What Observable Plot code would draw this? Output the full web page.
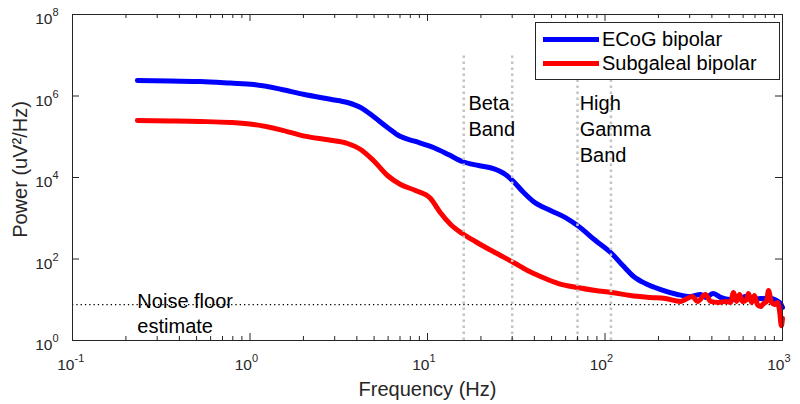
<!DOCTYPE html>
<html>
<head>
<meta charset="utf-8">
<script src="https://cdn.jsdelivr.net/npm/d3@7"></script>
<script src="https://cdn.jsdelivr.net/npm/@observablehq/plot@0.6"></script>
<style>
  html, body { margin: 0; padding: 0; background: #fff; }
  #wrap { position: relative; width: 800px; height: 404px; font-family: "Liberation Sans", Arial, sans-serif; }
  #legend { position: absolute; left: 535px; top: 22px; width: 245px; height: 58px; border: 1px solid #262626; background: #fff; box-sizing: border-box; }
  .lg-row { position: absolute; left: 0; height: 22px; display: flex; align-items: center; }
  .lg-line { width: 56px; height: 5px; margin-left: 7px; margin-right: 3px; }
  .lg-text { font-size: 20px; color: #000; white-space: nowrap; }
</style>
</head>
<body>
<div id="wrap"><div id="legend"></div></div>
<script>
// ---------- data ----------
const seriesNames = ["ECoG bipolar", "Subgaleal bipolar"];
const seriesColors = ["#0000ff", "#ff0000"];

const freqECoG = [0.232, 0.356, 0.526, 0.776, 1.05, 1.49, 2.0, 2.84, 3.54, 4.2, 4.96, 5.95, 7.05, 8.56, 10.8, 13.1, 15.7, 19.4, 23.5, 27.5, 30.5, 34.8, 39.5, 49.3, 59.9, 70, 88.4, 109, 126, 145, 169, 206, 256, 303, 345, 368, 408, 448, 509, 580, 619, 678, 752, 855, 925, 975, 1000];
const powerECoG = [2.40e6, 2.33e6, 2.27e6, 2.08e6, 1.92e6, 1.47e6, 1.10e6, 8.3e5, 6.92e5, 5.22e5, 3.14e5, 1.69e5, 1.01e5, 7.65e4, 5.45e4, 3.67e4, 2.47e4, 1.97e4, 1.66e4, 1.19e4, 7.98e3, 4.28e3, 2.58e3, 1.55e3, 1.04e3, 664, 284, 136, 69.2, 37.2, 25.0, 17.8, 13.5, 12.0, 13.5, 11.4, 14.2, 11.4, 10.1, 10.7, 12.0, 10.1, 10.7, 10.7, 9.6, 8.1, 6.45];

const freqSubgaleal = [0.232, 0.356, 0.526, 0.776, 1.05, 1.49, 2.0, 2.84, 3.54, 4.2, 4.96, 5.95, 7.05, 8.56, 10.4, 11.8, 13.5, 15.7, 18.6, 21.8, 25.8, 30.5, 36.6, 43.3, 54.7, 70, 88.4, 109, 139, 180, 219, 266, 311, 332, 368, 393, 436, 477, 509, 530, 551, 573, 596, 627, 643, 669, 695, 723, 752, 782, 813, 834, 867, 902, 938, 962, 986, 1000];
const powerSubgaleal = [2.5e5, 2.44e5, 2.37e5, 2.24e5, 2.0e5, 1.48e5, 1.05e5, 8.2e4, 6.83e4, 4.87e4, 2.61e4, 1.12e4, 6.73e3, 4.8e3, 3.05e3, 1.38e3, 703, 422, 269, 181, 122, 82, 52.2, 37.2, 25.0, 20.0, 16.9, 15.1, 12.7, 11.4, 10.7, 9.1, 12.0, 9.1, 13.5, 9.1, 8.6, 9.1, 8.6, 15.1, 9.1, 13.5, 9.1, 10.1, 14.2, 8.6, 12.7, 7.6, 6.8, 8.1, 9.1, 16.9, 8.6, 7.6, 8.6, 5.4, 2.3, 3.5];

const noiseFloor = 7.6;
const bandEdges = [16, 30, 70, 108];
const bandTop = 1e7;
const bandLabels = [
  {f: 17, p: 1.29e6, text: "Beta\nBand"},
  {f: 72, p: 1.29e6, text: "High\nGamma\nBand"}
];
const noiseLabel = {f: 0.232, p: 16.9, text: "Noise floor\nestimate"};

const xMajorTicks = [0.1, 1, 10, 100, 1000];
const xMinorTicks = [0.2,0.3,0.4,0.5,0.6,0.7,0.8,0.9, 2,3,4,5,6,7,8,9, 20,30,40,50,60,70,80,90, 200,300,400,500,600,700,800,900];
const yMajorTicks = [1, 1e2, 1e4, 1e6, 1e8];

const xLabel = "Frequency (Hz)";
const yLabel = "Power (uV\u00B2/Hz)";

// ---------- build ----------
const rows = [];
freqECoG.forEach((f, i) => rows.push({f, p: powerECoG[i], s: seriesNames[0]}));
freqSubgaleal.forEach((f, i) => rows.push({f, p: powerSubgaleal[i], s: seriesNames[1]}));

const W = 800, H = 404, mL = 72, mR = 18, mT = 14, mB = 64;
const innerW = W - mL - mR, innerH = H - mT - mB;
const axisColor = "#262626";
const expOf = d => String(Math.round(Math.log10(d)));

const chart = Plot.plot({
  width: W, height: H,
  marginLeft: mL, marginRight: mR, marginTop: mT, marginBottom: mB,
  style: {fontFamily: '"Liberation Sans", Arial, sans-serif', background: "#fff", overflow: "visible"},
  x: {type: "log", domain: [0.1, 1000], axis: null},
  y: {type: "log", domain: [1, 1e8], axis: null},
  color: {domain: seriesNames, range: seriesColors},
  marks: [
    Plot.ruleY([noiseFloor], {stroke: "#000", strokeWidth: 1.2, strokeDasharray: "1.3,3"}),
    Plot.line(rows, {x: "f", y: "p", z: "s", stroke: "s", strokeWidth: 5, curve: "monotone-x", strokeLinejoin: "round"}),
    Plot.ruleX(bandEdges, {x: d => d, y1: 1, y2: bandTop, stroke: "#c4c4c4", strokeWidth: 2.5, strokeDasharray: "2.5,3.5"}),
    Plot.text(bandLabels, {x: "f", y: "p", text: "text", textAnchor: "start", lineAnchor: "top", lineHeight: 1.3, fontSize: 20, fill: "#000"}),
    Plot.text([noiseLabel], {x: "f", y: "p", text: "text", textAnchor: "start", lineAnchor: "top", lineHeight: 1.23, fontSize: 20, fill: "#000"}),
    // frame
    Plot.frame({stroke: axisColor, strokeWidth: 1}),
    // x ticks (inward, bottom and top)
    Plot.tickX(xMajorTicks, {x: d => d, insetTop: innerH - 7, stroke: axisColor}),
    Plot.tickX(xMinorTicks, {x: d => d, insetTop: innerH - 4, stroke: axisColor}),
    Plot.tickX(xMajorTicks, {x: d => d, insetBottom: innerH - 7, stroke: axisColor}),
    Plot.tickX(xMinorTicks, {x: d => d, insetBottom: innerH - 4, stroke: axisColor}),
    // y ticks (inward, left and right)
    Plot.tickY(yMajorTicks, {y: d => d, insetRight: innerW - 7, stroke: axisColor}),
    Plot.tickY(yMajorTicks, {y: d => d, insetLeft: innerW - 7, stroke: axisColor}),
    // x tick labels
    Plot.text(xMajorTicks, {x: d => d, frameAnchor: "bottom", text: () => "10", textAnchor: "end", lineAnchor: "middle", dx: 2, dy: 25, fontSize: 15.5, fill: axisColor}),
    Plot.text(xMajorTicks, {x: d => d, frameAnchor: "bottom", text: expOf, textAnchor: "start", lineAnchor: "middle", dx: 2, dy: 18, fontSize: 11, fill: axisColor}),
    // y tick labels
    Plot.text(yMajorTicks, {y: d => d, frameAnchor: "left", text: () => "10", textAnchor: "end", lineAnchor: "middle", dx: -20, dy: 5, fontSize: 15.5, fill: axisColor}),
    Plot.text(yMajorTicks, {y: d => d, frameAnchor: "left", text: expOf, textAnchor: "start", lineAnchor: "middle", dx: -20, dy: -2, fontSize: 11, fill: axisColor}),
    // axis titles
    Plot.text([xLabel], {frameAnchor: "bottom", text: d => d, textAnchor: "middle", lineAnchor: "middle", dy: 49, fontSize: 20, fill: axisColor}),
    Plot.text([yLabel], {frameAnchor: "left", text: d => d, textAnchor: "middle", lineAnchor: "middle", rotate: -90, dx: -52, dy: -8, fontSize: 20, fill: axisColor})
  ]
});

const wrap = document.getElementById("wrap");
wrap.insertBefore(chart, wrap.firstChild);

// legend (HTML overlay inside the axes box)
const legend = document.getElementById("legend");
seriesNames.forEach((name, i) => {
  const row = document.createElement("div");
  row.className = "lg-row";
  row.style.top = (5 + i * 24) + "px";
  const ln = document.createElement("div");
  ln.className = "lg-line";
  ln.style.background = seriesColors[i];
  const tx = document.createElement("span");
  tx.className = "lg-text";
  tx.textContent = name;
  row.appendChild(ln); row.appendChild(tx);
  legend.appendChild(row);
});
</script>
</body>
</html>
